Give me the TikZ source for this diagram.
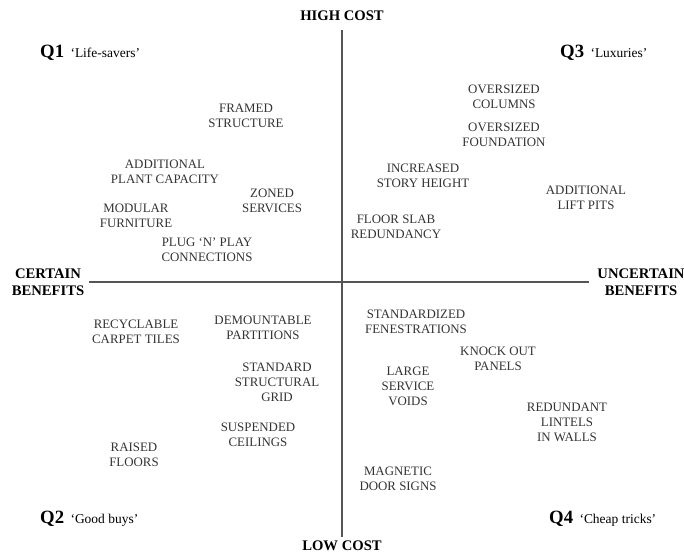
\documentclass[tikz,border=0pt]{standalone}
\usepackage{fontspec}
\setmainfont{Liberation Serif}
\usepackage{tikz}
\usetikzlibrary{positioning}

\definecolor{axisgray}{HTML}{555555}
\definecolor{itemgray}{HTML}{333333}

\tikzset{
  item/.style={align=center, inner sep=0pt, text=itemgray, font=\fontsize{11}{12.8}\selectfont},
  axislabel/.style={align=center, inner sep=1pt, font=\fontsize{12.5}{14.5}\selectfont\bfseries},
  quad/.style={anchor=base west, inner sep=0pt, font=\fontsize{16}{18}\selectfont\bfseries},
  quadname/.style={anchor=base west, inner sep=0pt, font=\fontsize{11.5}{13}\selectfont}
}

\begin{document}
\begin{tikzpicture}[x=0.03cm, y=-0.03cm]
\useasboundingbox (0,0) rectangle (684,554);

%axis labels
\node[axislabel] (high) at (342,16) {HIGH COST};
\node[axislabel] (low) at (342,546) {LOW COST};
\node[axislabel] (certain) at (48,282) {CERTAIN\\BENEFITS};
\node[axislabel] (uncertain) at (641,282) {UNCERTAIN\\BENEFITS};

%draw axes
\path (high.south) ++(0,8) coordinate (top) (low.north) ++(0,-3) coordinate (bottom);
\draw[axisgray, line width=1.1pt] (top) -- (bottom);
\draw[axisgray, line width=1.1pt, shorten <=3pt, shorten >=6pt] (certain.east) -- (uncertain.west);

%quadrant names
\node[quad] (q1) at (40,57) {Q1};
\node[quadname, right=5pt of q1.base east, anchor=base west] (q1name) {`Life-savers'};
\node[quad] (q3) at (560,57) {Q3};
\node[quadname, right=5pt of q3.base east, anchor=base west] (q3name) {`Luxuries'};
\node[quad] (q2) at (40,523) {Q2};
\node[quadname, right=5pt of q2.base east, anchor=base west] (q2name) {`Good buys'};
\node[quad] (q4) at (549,523) {Q4};
\node[quadname, right=5pt of q4.base east, anchor=base west] (q4name) {`Cheap tricks'};

%Q1 items
\node[item] (framed) at (246,116) {FRAMED\\STRUCTURE};
\node[item] (plant) at (165,172) {ADDITIONAL\\PLANT CAPACITY};
\node[item] (zoned) at (272,201) {ZONED\\SERVICES};
\node[item] (modular) at (136,216) {MODULAR\\FURNITURE};
\node[item] (plug) at (207,250) {PLUG `N' PLAY\\CONNECTIONS};

%Q3 items
\node[item] (columns) at (504,97) {OVERSIZED\\COLUMNS};
\node[item] (foundation) at (504,135) {OVERSIZED\\FOUNDATION};
\node[item] (story) at (423,176) {INCREASED\\STORY HEIGHT};
\node[item] (lift) at (586,198) {ADDITIONAL\\LIFT PITS};
\node[item] (slab) at (396,227) {FLOOR SLAB\\REDUNDANCY};

%Q2 items
\node[item] (carpet) at (136,332) {RECYCLABLE\\CARPET TILES};
\node[item] (partitions) at (263,328) {DEMOUNTABLE\\PARTITIONS};
\node[item] (grid) at (277,382) {STANDARD\\STRUCTURAL\\GRID};
\node[item] (ceilings) at (258,435) {SUSPENDED\\CEILINGS};
\node[item] (floors) at (134,455) {RAISED\\FLOORS};

%Q4 items
\node[item] (fenestrations) at (416,322) {STANDARDIZED\\FENESTRATIONS};
\node[item] (knockout) at (498,359) {KNOCK OUT\\PANELS};
\node[item] (voids) at (408,386) {LARGE\\SERVICE\\VOIDS};
\node[item] (lintels) at (567,422) {REDUNDANT\\LINTELS\\IN WALLS};
\node[item] (signs) at (398,479) {MAGNETIC\\DOOR SIGNS};
\end{tikzpicture}
\end{document}
